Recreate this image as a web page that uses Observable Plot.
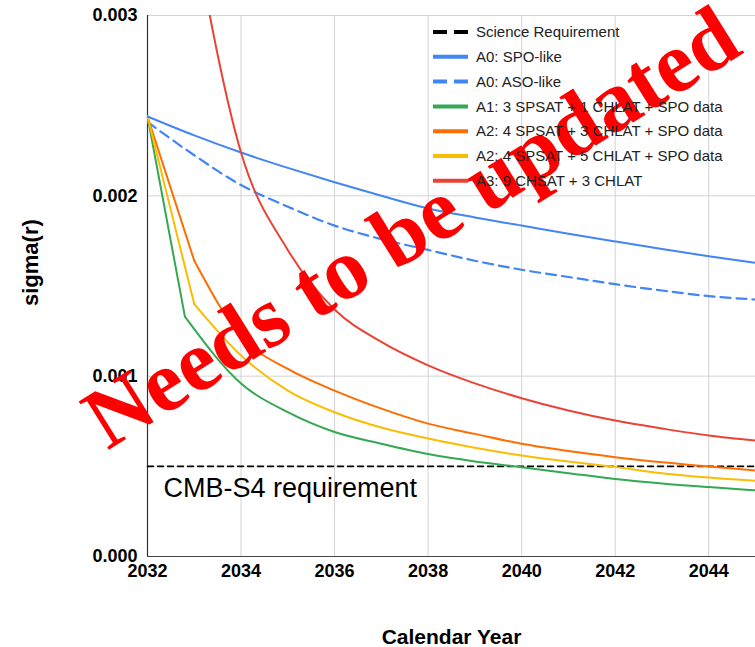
<!DOCTYPE html>
<html>
<head>
<meta charset="utf-8">
<script src="https://cdn.jsdelivr.net/npm/d3@7"></script>
<script src="https://cdn.jsdelivr.net/npm/@observablehq/plot@0.6"></script>
<style>
  html, body { margin: 0; padding: 0; background: #fff; }
  #chart { position: relative; width: 755px; height: 647px; overflow: hidden; }
  #chart svg { display: block; }
</style>
</head>
<body>
<div id="chart"></div>
<script>
// Forecast of sigma(r) versus calendar year for the candidate CMB-S4 configurations.

// Axis ticks
const xTicks = [2032, 2034, 2036, 2038, 2040, 2042, 2044];
const yTicks = [0, 0.001, 0.002, 0.003];

// Science requirement on sigma(r)
const requirementValue = 0.0005;
const requirementYears = [2032, 2045];

// A0: SPO-like
const spoYears  = [2032, 2033, 2034, 2035, 2036, 2037, 2038, 2039, 2040, 2041, 2042, 2043, 2044, 2045];
const spoValues = [0.00244, 0.002335, 0.00224, 0.002155, 0.002075, 0.00200, 0.00193, 0.00188, 0.001835, 0.00179, 0.001747, 0.001705, 0.001665, 0.001628];

// A0: ASO-like
const asoYears  = [2032, 2033, 2034, 2035, 2036, 2037, 2038, 2039, 2040, 2041, 2042, 2043, 2044, 2045];
const asoValues = [0.00241, 0.002225, 0.00206, 0.00194, 0.001835, 0.00176, 0.00170, 0.00164, 0.00159, 0.00155, 0.00151, 0.001475, 0.001444, 0.001425];

// A1: 3 SPSAT + 1 CHLAT + SPO data
const a1Years  = [2032, 2032.8, 2034, 2035, 2036, 2037, 2038, 2039, 2040, 2041, 2042, 2043, 2044, 2045];
const a1Values = [0.00244, 0.00133, 0.00096, 0.00080, 0.00069, 0.000625, 0.000568, 0.000527, 0.000495, 0.000462, 0.00043, 0.000405, 0.000385, 0.000367];

// A2: 4 SPSAT + 3 CHLAT + SPO data
const a2aYears  = [2032, 2033, 2034, 2035, 2036, 2037, 2038, 2039, 2040, 2041, 2042, 2043, 2044, 2045];
const a2aValues = [0.00244, 0.00164, 0.00122, 0.00104, 0.00092, 0.00082, 0.000737, 0.00068, 0.000625, 0.000585, 0.000551, 0.000522, 0.000499, 0.000477];

// A2: 4 SPSAT + 5 CHLAT + SPO data
const a2bYears  = [2032, 2033, 2034, 2035, 2036, 2037, 2038, 2039, 2040, 2041, 2042, 2043, 2044, 2045];
const a2bValues = [0.00244, 0.00140, 0.001115, 0.00092, 0.00080, 0.000715, 0.000654, 0.000603, 0.00056, 0.000527, 0.000497, 0.000462, 0.000438, 0.00042];

// A3: 9 CHSAT + 3 CHLAT
const a3Years  = [2033, 2034, 2035, 2036, 2037, 2038, 2039, 2040, 2041, 2042, 2043, 2044, 2045];
const a3Values = [0.00345, 0.00224, 0.00170, 0.00137, 0.00119, 0.00106, 0.00096, 0.000878, 0.00081, 0.000754, 0.00071, 0.000671, 0.000643];

// Legend entries, in drawing order
const legendLabels = [
  "Science Requirement",
  "A0: SPO-like",
  "A0: ASO-like",
  "A1: 3 SPSAT + 1 CHLAT + SPO data",
  "A2: 4 SPSAT + 3 CHLAT + SPO data",
  "A2: 4 SPSAT + 5 CHLAT + SPO data",
  "A3: 9 CHSAT + 3 CHLAT"
];
const legendColors = ["#000000", "#4285F4", "#4285F4", "#34A853", "#FF6D01", "#FBBC04", "#EA4335"];
const legendDashes = ["14,7", null, "14,7", null, null, null, null];

const requirementLabel = "CMB-S4 requirement";
const watermarkText = "Needs to be updated";
const xTitle = "Calendar Year";
const yTitle = "sigma(r)";

// Split a series into its straight first step ("head") and the smoothed remainder ("tail").
function split(name, years, values, headPoints) {
  const head = [], tail = [];
  years.forEach((year, i) => {
    const row = {name, year, value: values[i]};
    if (i < headPoints) head.push(row);
    if (i >= headPoints - 1) tail.push(row);
  });
  return {head, tail};
}

const spo = split(legendLabels[1], spoYears, spoValues, 1);
const aso = split(legendLabels[2], asoYears, asoValues, 1);
const a1 = split(legendLabels[3], a1Years, a1Values, 2);
const a2a = split(legendLabels[4], a2aYears, a2aValues, 2);
const a2b = split(legendLabels[5], a2bYears, a2bValues, 2);
const a3 = split(legendLabels[6], a3Years, a3Values, 1);

const heads = [...a1.head, ...a2a.head, ...a2b.head];
const tails = [...spo.tail, ...a1.tail, ...a2a.tail, ...a2b.tail, ...a3.tail];
const requirementRows = requirementYears.map(year => ({year, value: requirementValue}));

const colorScale = {domain: legendLabels.slice(1), range: legendColors.slice(1)};

const sans = "'Liberation Sans', Arial, Helvetica, sans-serif";

const chart = Plot.plot({
  width: 755,
  height: 647,
  marginTop: 15,
  marginRight: 0,
  marginBottom: 91,
  marginLeft: 147,
  style: {fontFamily: sans, background: "#ffffff", overflow: "visible"},
  x: {domain: [2032, 2045]},
  y: {domain: [0, 0.003]},
  color: colorScale,
  marks: [
    Plot.gridX(xTicks, {stroke: "#d3d3d3", strokeOpacity: 1}),
    Plot.gridY(yTicks, {stroke: "#d3d3d3", strokeOpacity: 1}),
    Plot.ruleY([0], {stroke: "#444", strokeWidth: 1.2}),
    Plot.ruleX([2032], {stroke: "#333", strokeWidth: 1.2}),
    Plot.axisX(xTicks, {
      tickSize: 0, tickPadding: 8, tickFormat: d => String(d),
      fontSize: 18, fontWeight: "bold", fill: "#000", label: null
    }),
    Plot.axisY(yTicks, {
      tickSize: 0, tickPadding: 10, tickFormat: d3.format(".3f"),
      fontSize: 18, fontWeight: "bold", fill: "#000", label: null
    }),
    // Requirement line and its label
    Plot.line(requirementRows, {x: "year", y: "value", stroke: "#000", strokeWidth: 1.6, strokeDasharray: "6,4"}),
    Plot.text([requirementLabel], {
      x: () => requirementYears[0], y: () => requirementValue, text: d => d,
      textAnchor: "start", lineAnchor: "top", dx: 16, dy: 11,
      fontSize: 27, fill: "#000"
    }),
    // ASO-like (dashed)
    Plot.line(aso.tail, {x: "year", y: "value", stroke: legendColors[2], strokeWidth: 2.2,
      strokeDasharray: "10,6", curve: "monotone-x", clip: true}),
    // Straight first steps
    Plot.line(heads, {x: "year", y: "value", z: "name", stroke: "name", strokeWidth: 2, clip: true}),
    // Smoothed curves
    Plot.line(tails, {x: "year", y: "value", z: "name", stroke: "name",
      strokeWidth: 2, curve: "monotone-x", clip: true}),
    // Axis titles
    Plot.text([yTitle], {
      frameAnchor: "left", text: d => d, rotate: -90, dx: -117, dy: 20,
      fontSize: 22, fontWeight: "bold", fill: "#000"
    }),
    Plot.text([xTitle], {
      frameAnchor: "bottom", text: d => d, lineAnchor: "bottom", dy: 87,
      fontSize: 21, fontWeight: "bold", fill: "#000"
    }),
    // Stamp across the chart
    Plot.text([watermarkText], {
      frameAnchor: "middle", text: d => d, dx: -40, dy: -58, rotate: -32,
      fontSize: 87, fontWeight: "bold", fontFamily: "'Liberation Serif', 'Times New Roman', serif",
      fill: "#ff0000", ariaLabel: "stamp"
    })
  ]
});

document.getElementById("chart").appendChild(chart);

// Legend, drawn inside the plot area beneath the stamp
const svg = d3.select(chart);
const legend = svg.insert("g", 'g[aria-label="stamp"]')
  .attr("class", "legend")
  .attr("text-anchor", "start");
const legendX = 433, legendY = 32, rowStep = 24.8;
legendLabels.forEach((label, i) => {
  const y = legendY + i * rowStep;
  legend.append("line")
    .attr("x1", legendX).attr("x2", legendX + 35)
    .attr("y1", y).attr("y2", y)
    .attr("stroke", legendColors[i])
    .attr("stroke-width", 4)
    .attr("stroke-dasharray", legendDashes[i]);
  legend.append("text")
    .attr("x", legendX + 43).attr("y", y).attr("dy", "0.35em")
    .attr("text-anchor", "start")
    .attr("font-family", sans).attr("font-size", 15).attr("fill", "#222")
    .text(label);
});
</script>
</body>
</html>
